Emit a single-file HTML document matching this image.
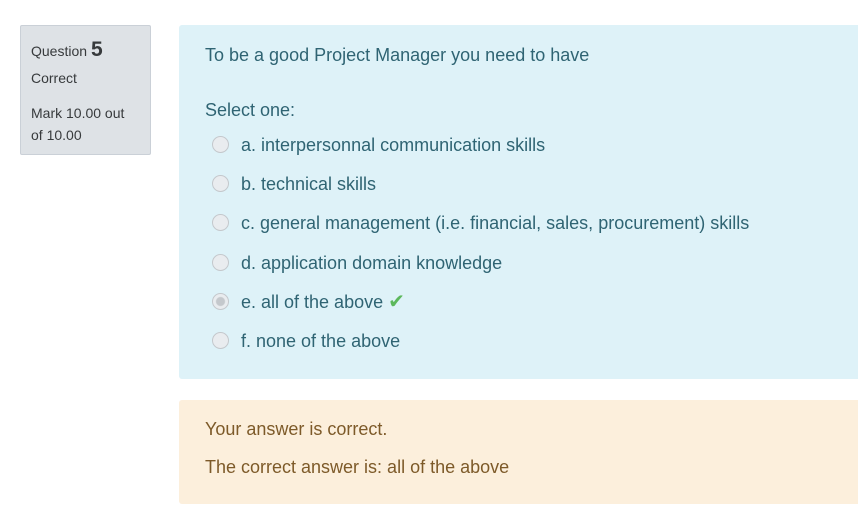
<!DOCTYPE html>
<html><head><meta charset="utf-8"><style>
body{margin:0;width:858px;height:528px;background:#fff;font-family:"Liberation Sans",sans-serif;position:relative;overflow:hidden}
.info{position:absolute;left:20px;top:25px;width:129px;height:128px;background:#dee2e6;border:1px solid #cad0d7;border-radius:2px;color:#373a3c;font-size:14px}
.info div{position:absolute;left:10px}
.q{position:absolute;left:179px;top:25px;width:679px;height:354px;background:#def2f8;border-radius:3px 0 0 3px;color:#2f6473;font-size:18px}
.q .t{position:absolute;left:26px;white-space:nowrap;line-height:20px}
.r{position:absolute;left:33px;width:15px;height:15px;border-radius:50%;border:1px solid #c4c8cc;background:#e9ecef}
.fb{position:absolute;left:179px;top:400px;width:679px;height:104px;background:#fcefdc;border-radius:3px 0 0 3px;color:#7d5a29;font-size:18px}
.fb div{position:absolute;left:26px;white-space:nowrap;line-height:20px}
</style></head><body>
<div class="info">
<div style="top:12px">Question <b style="font-size:21px">5</b></div>
<div style="top:44px">Correct</div>
<div style="top:76px;line-height:22px">Mark 10.00 out<br>of 10.00</div>
</div>
<div class="q">
<div class="t" style="top:20px">To be a good Project Manager you need to have</div>
<div class="t" style="top:75px">Select one:</div>
<div class="r" style="top:111px"></div>
<div class="t" style="left:62px;top:110px">a. interpersonnal communication skills</div>
<div class="r" style="top:150px"></div>
<div class="t" style="left:62px;top:149px">b. technical skills</div>
<div class="r" style="top:189px"></div>
<div class="t" style="left:62px;top:188px">c. general management (i.e. financial, sales, procurement) skills</div>
<div class="r" style="top:229px"></div>
<div class="t" style="left:62px;top:228px">d. application domain knowledge</div>
<div class="r" style="top:268px;background:radial-gradient(circle,#c4c8cc 0 4px,#e9ecef 5px)"></div>
<div class="t" style="left:62px;top:267px">e. all of the above <span style="color:#5cb85c;font-size:20px">✔</span></div>
<div class="r" style="top:307px"></div>
<div class="t" style="left:62px;top:306px">f. none of the above</div>
</div>
<div class="fb">
<div style="top:19px">Your answer is correct.</div>
<div style="top:57px">The correct answer is: all of the above</div>
</div>
</body></html>
